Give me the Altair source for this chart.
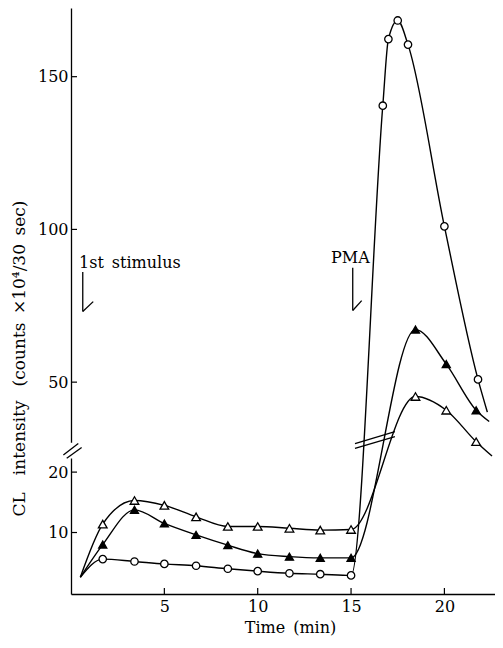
import altair as alt
import pandas as pd

# ---------------- data (time in min, CL intensity in counts x10^4 / 30 s) -------------
start_t = 0.5
start_v = 2.6

t_lower = [1.7, 3.4, 5.0, 6.7, 8.4, 10.0, 11.7, 13.35, 15.0]
open_tri_lower = [11.4, 15.3, 14.5, 12.6, 11.0, 11.0, 10.7, 10.4, 10.5]
filled_tri_lower = [8.0, 13.75, 11.5, 9.6, 7.9, 6.5, 6.0, 5.8, 5.8]
circle_lower = [5.6, 5.2, 4.8, 4.5, 4.0, 3.6, 3.25, 3.1, 2.9]

circle_upper_t = [16.7, 17.0, 17.5, 18.05, 20.0, 21.8]
circle_upper = [140.5, 162.3, 168.4, 160.5, 101.0, 50.9]
filled_tri_upper_t = [18.45, 20.1, 21.7]
filled_tri_upper = [67.2, 55.9, 40.8]
open_tri_upper_t = [18.45, 20.1, 21.7]
open_tri_upper = [45.3, 40.8, 30.5]

# line tails drawn past the last marker
circle_tail = [22.3, 40.2]
filled_tail = [22.4, 37.1]
open_tail = [22.55, 25.8]

lower_ticks = [10, 20]
upper_ticks = [50, 100, 150]
x_ticks = [5, 10, 15, 20]

# ---------------- broken-axis geometry ----------------
LOW_SLOPE, LOW_OFF = 6.13, 1.1
UP_SLOPE, UP_OFF = 3.1, 60.0
Y_TOP = 594.7
H = 586
W = 424
X_MAX = 22.71
FONT = "DejaVu Serif"
SP = "\u2002"

rows = []


def add(series, ts, vs, seg, marker):
    for t, v in zip(ts, vs):
        rows.append(dict(series=series, t=t, v=v, seg=seg, marker=marker))


for s in ["circle", "filled", "open"]:
    add(s, [start_t], [start_v], "lo", False)
add("circle", t_lower, circle_lower, "lo", True)
add("filled", t_lower, filled_tri_lower, "lo", True)
add("open", t_lower, open_tri_lower, "lo", True)
add("circle", circle_upper_t, circle_upper, "up", True)
add("filled", filled_tri_upper_t, filled_tri_upper, "up", True)
add("open", open_tri_upper_t, open_tri_upper, "up", True)
add("circle", [circle_tail[0]], [circle_tail[1]], "up", False)
add("filled", [filled_tail[0]], [filled_tail[1]], "up", False)
add("open", [open_tail[0]], [open_tail[1]], "up", False)
df = pd.DataFrame(rows)

py_expr = (f"datum.seg == 'lo' ? {LOW_OFF} + {LOW_SLOPE} * datum.v "
           f": {UP_OFF} + {UP_SLOPE} * datum.v")

ytick_py = [LOW_OFF + LOW_SLOPE * v for v in lower_ticks] + \
           [UP_OFF + UP_SLOPE * v for v in upper_ticks]
label_expr = (f"datum.value < 150 ? format((datum.value - {LOW_OFF}) / {LOW_SLOPE}, '.0f')"
              f" : format((datum.value - {UP_OFF}) / {UP_SLOPE}, '.0f')")

x_scale = alt.Scale(domain=[0, X_MAX], nice=False, zero=False)
y_scale = alt.Scale(domain=[0, Y_TOP], nice=False, zero=False)

x_axis = alt.Axis(values=x_ticks, ticks=False, grid=False, domainColor="black",
                  domainWidth=1.3, labelFont=FONT, labelFontSize=16, labelColor="black",
                  labelPadding=4, title=f"Time{SP}(min)", titleFont=FONT, titleFontSize=16,
                  titleFontWeight="normal", titleColor="black", titleX=219, titleY=38,
                  titleBaseline="alphabetic", titleAlign="center")
y_axis = alt.Axis(values=ytick_py, labelExpr=label_expr, ticks=False, grid=False,
                  domainColor="black", domainWidth=1.3, labelFont=FONT, labelFontSize=16,
                  labelColor="black", labelPadding=3,
                  title=f"CL{SP}{SP}intensity{SP} (counts{SP}×10⁴/30{SP}sec)", titleFont=FONT,
                  titleFontSize=17, titleFontWeight="normal", titleColor="black",
                  titleAngle=270, titleX=-52, titleY=350, titleAlign="center",
                  titleBaseline="middle")


def X(field="t"):
    return alt.X(f"{field}:Q", scale=x_scale, axis=x_axis)


def Y(field="py"):
    return alt.Y(f"{field}:Q", scale=y_scale, axis=y_axis)


base = alt.Chart(df).transform_calculate(py=py_expr)

lines = base.mark_line(interpolate="monotone", color="black", strokeWidth=1.4).encode(
    x=X(), y=Y(), detail="series:N")

points = base.transform_filter("datum.marker").mark_point(
    filled=True, stroke="black", strokeWidth=1.3, opacity=1).encode(
    x=X(), y=Y(),
    shape=alt.Shape("series:N", scale=alt.Scale(domain=["circle", "filled", "open"],
                                                range=["circle", "triangle-up", "triangle-up"]),
                    legend=None),
    fill=alt.Fill("series:N", scale=alt.Scale(domain=["circle", "filled", "open"],
                                              range=["white", "black", "white"]),
                  legend=None),
    size=alt.Size("series:N", scale=alt.Scale(domain=["circle", "filled", "open"],
                                              range=[55, 75, 75]),
                  legend=None))

# inward tick marks
ytick_df = pd.DataFrame({"py": ytick_py})
yticks = alt.Chart(ytick_df).mark_rule(color="black", strokeWidth=1.2).encode(
    y=Y(), x=alt.value(0), x2=alt.value(6))
xtick_df = pd.DataFrame({"t": x_ticks})
xticks = alt.Chart(xtick_df).mark_rule(color="black", strokeWidth=1.2).encode(
    x=X(), y=alt.value(H), y2=alt.value(H - 6))

# axis-break gap on the y axis
gap_df = pd.DataFrame({"py": [137.5], "py2": [153.5]})
gap = alt.Chart(gap_df).mark_rule(color="white", strokeWidth=4).encode(
    y=Y(), y2="py2:Q", x=alt.value(0))

# decorations: break slashes and stimulus arrows (time, py)
seg_t = [-0.41, -0.23, 15.21, 15.21, 0.63, 0.63, 15.09, 15.09]
seg_py = [141.0, 137.7, 152.7, 147.7, 326.7, 286.7, 331.0, 287.7]
seg_t2 = [0.39, 0.57, 17.35, 17.35, 0.63, 1.19, 15.09, 15.57]
seg_py2 = [152.7, 148.7, 164.7, 159.7, 286.7, 296.7, 287.7, 297.7]
seg_df = pd.DataFrame({"t": seg_t, "py": seg_py, "t2": seg_t2, "py2": seg_py2})
segs = alt.Chart(seg_df).mark_rule(color="black", strokeWidth=1.3).encode(
    x=X(), x2="t2:Q", y=Y(), y2="py2:Q")

ann_text = [f"1st{SP}stimulus", "PMA"]
ann_t = [0.43, 13.93]
ann_py = [331.0, 336.0]
ann_df = pd.DataFrame({"label": ann_text, "t": ann_t, "py": ann_py})
ann = alt.Chart(ann_df).mark_text(align="left", baseline="alphabetic", font=FONT,
                                  fontSize=16, color="black").encode(
    x=X(), y=Y(), text="label:N")

chart = alt.layer(lines, gap, segs, points, yticks, xticks, ann).properties(
    width=W, height=H,
    autosize=alt.AutoSizeParams(type="none"),
    padding={"left": 63, "top": 0, "right": 0, "bottom": 42},
    background="white",
).configure_view(stroke=None)

chart.save("out.html", embed_options={"renderer": "svg", "actions": False})
